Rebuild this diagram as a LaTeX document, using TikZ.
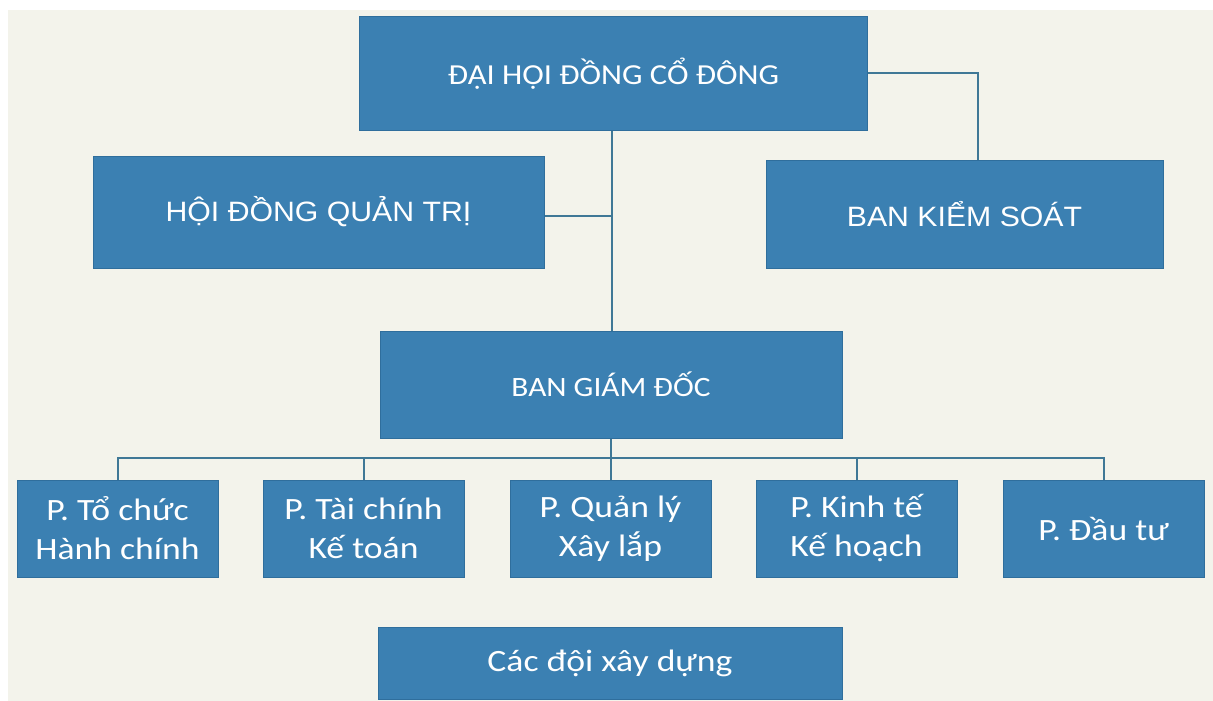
\documentclass[tikz,border=0pt]{standalone}
\usepackage{fontspec}
\setmainfont{Carlito}
\newfontfamily\calA{Carlito}[FakeStretch=1.12]
\newfontfamily\calB{Carlito}[FakeStretch=1.15]
\newfontfamily\arA{Liberation Sans}[FakeStretch=1.08]
\definecolor{boxblue}{HTML}{3B80B2}
\definecolor{boxedge}{HTML}{2F6E9C}
\definecolor{linecol}{HTML}{3F7896}
\definecolor{paper}{HTML}{F3F3EB}
\begin{document}
\begin{tikzpicture}[x=1pt,y=-1pt,
  box/.style={draw=boxedge, line width=1pt, fill=boxblue, text=white, inner sep=0pt, align=center},
  topfont/.style={font=\calA\fontsize{29}{34}\selectfont},
  gdfont/.style={font=\calA\fontsize{28}{34}\selectfont},
  qtfont/.style={font=\arA\fontsize{28}{34}\selectfont},
  small/.style={font=\calB\fontsize{31}{39}\selectfont},
  conn/.style={draw=linecol, line width=2pt}]
\useasboundingbox (0,0) rectangle (1213,701);
\fill[white] (0,0) rectangle (1213,701);
\fill[paper] (8,10) rectangle (1213,701);
\node[box,topfont,minimum width=508pt,minimum height=113pt] (dhd) at (613.5,73.5) {ĐẠI HỘI ĐỒNG CỔ ĐÔNG};
\node[box,qtfont,minimum width=451pt,minimum height=112pt] (hdqt) at (318.5,212) {HỘI ĐỒNG QUẢN TRỊ};
\node[box,qtfont,minimum width=397pt,minimum height=108pt] (bks) at (964.5,214) {BAN KIỂM SOÁT};
\node[box,gdfont,minimum width=462pt,minimum height=107pt] (bgd) at (611,384.5) {BAN GIÁM ĐỐC};
\node[box,small,minimum width=201pt,minimum height=97pt] (p1) at (117.5,528.5) {P. Tổ chức\\Hành chính};
\node[box,small,minimum width=201pt,minimum height=97pt] (p2) at (363.5,528.5) {P. Tài chính\\Kế toán};
\node[box,small,minimum width=201pt,minimum height=97pt] (p3) at (610.5,528.5) {P. Quản lý\\Xây lắp};
\node[box,small,minimum width=201pt,minimum height=97pt] (p4) at (856.5,528.5) {P. Kinh tế\\Kế hoạch};
\node[box,small,minimum width=201pt,minimum height=97pt] (p5) at (1103.5,528.5) {P. Đầu tư};
\node[box,small,minimum width=464pt,minimum height=72pt] (doi) at (610,663) {Các đội xây dựng};
\coordinate (j) at (612,216);
\coordinate (k) at (978,0);
\coordinate (bus) at (0,458);
\draw[conn] (dhd.south -| j) -- (bgd.north -| j);
\draw[conn] (hdqt.east |- j) -- (j);
\draw[conn] (dhd.east) -| (bks.north -| k);
\draw[conn] (bgd.south) -- (bgd.south |- bus);
\draw[conn] (p1.north) -- (p1.north |- bus) -- (p5.north |- bus) -- (p5.north);
\draw[conn] (p2.north) -- (p2.north |- bus);
\draw[conn] (p3.north) -- (p3.north |- bus);
\draw[conn] (p4.north) -- (p4.north |- bus);
\end{tikzpicture}
\end{document}
